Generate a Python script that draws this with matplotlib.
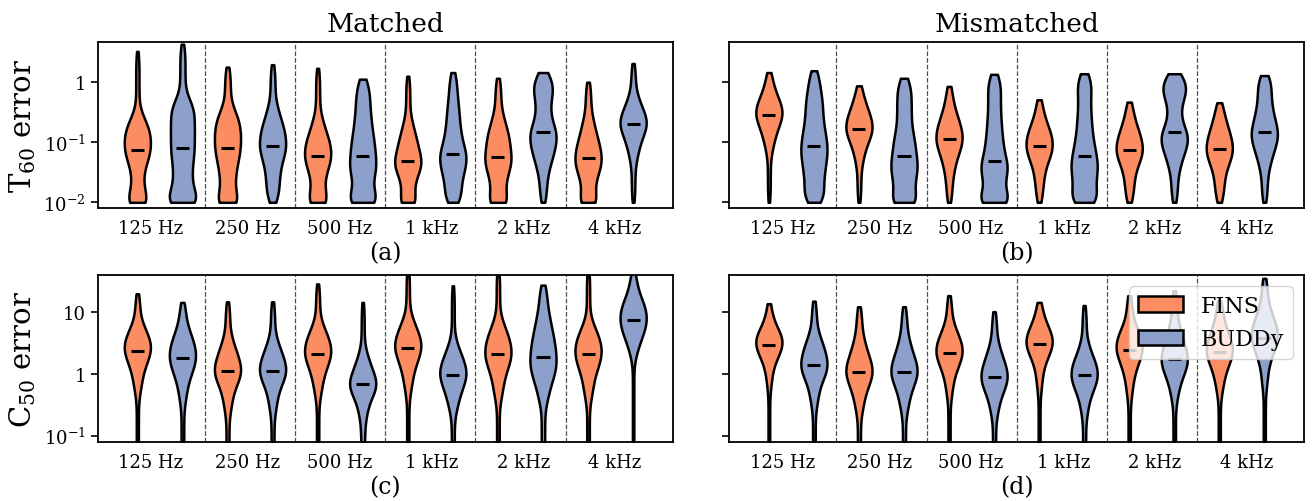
import math

import numpy as np
import matplotlib
matplotlib.use("Agg")
import matplotlib.pyplot as plt
from matplotlib.patches import Patch

plt.rcParams["font.family"] = "serif"
plt.rcParams["font.serif"] = ["DejaVu Serif"]
plt.rcParams["mathtext.fontset"] = "dejavuserif"

bands = ["125 Hz", "250 Hz", "500 Hz", "1 kHz", "2 kHz", "4 kHz"]
methods = ["FINS", "BUDDy"]
colors = {"FINS": "#fc8d62", "BUDDy": "#8da0cb"}

# error values per band, log10 scale, read as deciles (min, 10%, ..., 90%, max)
t60_matched_fins = [
    [-2, -2, -1.75, -1.45, -1.25, -1.14, -1.0, -0.88, -0.75, -0.55, 0.5],
    [-2, -2, -1.7, -1.45, -1.25, -1.1, -0.95, -0.8, -0.65, -0.45, 0.24],
    [-2, -2, -1.75, -1.5, -1.35, -1.24, -1.12, -1.0, -0.85, -0.6, 0.22],
    [-2, -2, -1.7, -1.5, -1.4, -1.31, -1.2, -1.05, -0.9, -0.65, 0.09],
    [-2, -2, -1.7, -1.5, -1.35, -1.25, -1.1, -0.95, -0.8, -0.55, 0.055],
    [-2, -2, -1.7, -1.5, -1.38, -1.27, -1.15, -1.02, -0.85, -0.6, -0.01],
]
t60_matched_buddy = [
    [-2, -2, -1.8, -1.55, -1.3, -1.1, -0.9, -0.7, -0.5, -0.3, 0.62],
    [-2, -1.75, -1.5, -1.3, -1.15, -1.06, -0.92, -0.8, -0.65, -0.4, 0.28],
    [-2, -2, -1.8, -1.55, -1.4, -1.23, -1.05, -0.85, -0.6, -0.3, 0.04],
    [-2, -1.85, -1.6, -1.45, -1.3, -1.2, -1.05, -0.85, -0.6, -0.3, 0.15],
    [-2, -1.5, -1.25, -1.1, -0.95, -0.84, -0.7, -0.45, -0.2, -0.05, 0.15],
    [-2, -1.3, -1.05, -0.9, -0.78, -0.71, -0.63, -0.55, -0.42, -0.25, 0.3],
]
t60_mismatched_fins = [
    [-2, -1.15, -0.9, -0.75, -0.63, -0.56, -0.48, -0.4, -0.3, -0.15, 0.15],
    [-2, -1.35, -1.1, -0.95, -0.85, -0.78, -0.7, -0.6, -0.5, -0.35, -0.07],
    [-2, -1.55, -1.3, -1.15, -1.03, -0.95, -0.85, -0.75, -0.62, -0.45, -0.08],
    [-2, -1.65, -1.4, -1.25, -1.15, -1.07, -0.98, -0.88, -0.78, -0.62, -0.3],
    [-2, -1.7, -1.45, -1.3, -1.2, -1.13, -1.03, -0.93, -0.82, -0.65, -0.34],
    [-2, -1.7, -1.45, -1.3, -1.2, -1.12, -1.02, -0.92, -0.8, -0.63, -0.35],
]
t60_mismatched_buddy = [
    [-2, -1.85, -1.6, -1.4, -1.22, -1.07, -0.9, -0.7, -0.45, -0.2, 0.18],
    [-2, -2, -1.75, -1.55, -1.4, -1.24, -1.05, -0.85, -0.55, -0.25, 0.055],
    [-2, -2, -1.85, -1.6, -1.45, -1.31, -1.1, -0.85, -0.55, -0.2, 0.12],
    [-2, -1.95, -1.75, -1.55, -1.4, -1.24, -1.05, -0.8, -0.5, -0.15, 0.13],
    [-2, -1.45, -1.2, -1.05, -0.92, -0.83, -0.6, -0.3, -0.15, -0.02, 0.13],
    [-2, -1.45, -1.2, -1.05, -0.92, -0.83, -0.7, -0.55, -0.35, -0.1, 0.1],
]
c50_matched_fins = [
    [-1.5, -0.3, 0.0, 0.18, 0.3, 0.38, 0.46, 0.55, 0.65, 0.8, 1.3],
    [-1.5, -0.6, -0.3, -0.12, -0.02, 0.05, 0.15, 0.25, 0.38, 0.58, 1.17],
    [-1.5, -0.35, -0.05, 0.13, 0.25, 0.33, 0.42, 0.52, 0.63, 0.8, 1.46],
    [-1.5, -0.3, 0.02, 0.2, 0.33, 0.42, 0.5, 0.6, 0.72, 0.9, 1.7],
    [-1.5, -0.4, -0.1, 0.1, 0.22, 0.32, 0.42, 0.53, 0.66, 0.85, 1.7],
    [-1.5, -0.4, -0.1, 0.1, 0.22, 0.32, 0.42, 0.52, 0.64, 0.82, 1.7],
]
c50_matched_buddy = [
    [-1.5, -0.45, -0.12, 0.05, 0.17, 0.26, 0.36, 0.46, 0.58, 0.75, 1.16],
    [-1.5, -0.6, -0.3, -0.12, -0.02, 0.05, 0.14, 0.24, 0.36, 0.55, 1.17],
    [-1.3, -0.7, -0.45, -0.3, -0.22, -0.16, -0.08, 0.02, 0.15, 0.35, 1.16],
    [-1.5, -0.6, -0.35, -0.2, -0.08, -0.01, 0.08, 0.18, 0.3, 0.5, 1.43],
    [-1.5, -0.45, -0.15, 0.02, 0.15, 0.28, 0.42, 0.57, 0.75, 1.0, 1.44],
    [-1.5, 0.3, 0.55, 0.68, 0.78, 0.87, 0.96, 1.05, 1.15, 1.3, 1.65],
]
c50_mismatched_fins = [
    [-1.5, -0.2, 0.15, 0.3, 0.4, 0.47, 0.53, 0.6, 0.68, 0.8, 1.14],
    [-1.5, -0.6, -0.32, -0.15, -0.04, 0.04, 0.13, 0.24, 0.38, 0.6, 1.09],
    [-1.5, -0.35, -0.02, 0.15, 0.26, 0.34, 0.42, 0.51, 0.62, 0.78, 1.27],
    [-1.5, -0.25, 0.12, 0.3, 0.4, 0.48, 0.55, 0.62, 0.72, 0.85, 1.16],
    [-1.5, -0.35, 0.0, 0.18, 0.3, 0.39, 0.47, 0.56, 0.66, 0.82, 1.27],
    [-1.5, -0.3, 0.0, 0.17, 0.28, 0.36, 0.44, 0.53, 0.65, 0.82, 1.19],
]
c50_mismatched_buddy = [
    [-1.5, -0.5, -0.2, -0.02, 0.07, 0.14, 0.25, 0.35, 0.47, 0.65, 1.18],
    [-1.5, -0.6, -0.32, -0.15, -0.04, 0.04, 0.13, 0.24, 0.38, 0.6, 1.09],
    [-1.5, -0.65, -0.38, -0.22, -0.12, -0.05, 0.05, 0.15, 0.28, 0.48, 1.01],
    [-1.5, -0.65, -0.35, -0.2, -0.1, -0.02, 0.07, 0.16, 0.28, 0.48, 1.11],
    [-1.5, -0.4, -0.1, 0.05, 0.16, 0.24, 0.34, 0.45, 0.6, 0.82, 1.35],
    [-1.5, -0.2, 0.2, 0.38, 0.5, 0.59, 0.68, 0.78, 0.9, 1.1, 1.55],
]

panels = [
    ("Matched", "(a)", t60_matched_fins, t60_matched_buddy),
    ("Mismatched", "(b)", t60_mismatched_fins, t60_mismatched_buddy),
    (None, "(c)", c50_matched_fins, c50_matched_buddy),
    (None, "(d)", c50_mismatched_fins, c50_mismatched_buddy),
]

t60_ticks = [-2, -1, 0]
t60_labels = [r"$\mathdefault{10^{-2}}$", r"$\mathdefault{10^{-1}}$", "1"]
c50_ticks = [-1, 0, 1]
c50_labels = [r"$\mathdefault{10^{-1}}$", "1", "10"]

band_label_pos = [0.3, 2.45, 4.49, 6.54, 8.57, 10.6]

_erf = np.vectorize(math.erf)


def _phi(z):
    return 0.5 * (1 + _erf(z / math.sqrt(2)))


def decile_stats(q, sigma=0.16, n=300):
    # density implied by the deciles (equal mass between neighbours), smoothed
    q = np.asarray(q, dtype=float)
    y = np.linspace(q[0], q[-1], n)
    dens = np.zeros_like(y)
    mass = 1.0 / (len(q) - 1)
    for a, b in zip(q[:-1], q[1:]):
        if b - a < 1e-9:
            dens += mass * np.exp(-0.5 * ((y - a) / sigma) ** 2) / (sigma * math.sqrt(2 * math.pi))
        else:
            dens += mass / (b - a) * (_phi((y - a) / sigma) - _phi((y - b) / sigma))
    return dict(coords=y, vals=dens, mean=q.mean(), median=q[len(q) // 2],
                min=q[0], max=q[-1])


fig = plt.figure(figsize=(13.13, 5.02), dpi=100)
rects = [
    [0.0744, 0.583, 0.438, 0.331],
    [0.5554, 0.583, 0.4377, 0.331],
    [0.0744, 0.117, 0.438, 0.3333],
    [0.5554, 0.117, 0.4377, 0.3333],
]

for k, (title, tag, fins, buddy) in enumerate(panels):
    ax = fig.add_axes(rects[k])
    for j, (name, series) in enumerate(zip(methods, [fins, buddy])):
        pos = [2 * i + j for i in range(len(bands))]
        stats = [decile_stats(q) for q in series]
        parts = ax.violin(stats, positions=pos, widths=0.58,
                          showextrema=False, showmedians=True)
        for body in parts["bodies"]:
            body.set_facecolor(colors[name])
            body.set_edgecolor("black")
            body.set_linewidth(1.8)
            body.set_alpha(1)
        parts["cmedians"].set_color("black")
        parts["cmedians"].set_linewidth(2.2)

    for i in range(len(bands) - 1):
        ax.axvline(2 * i + 1.5, color="0.3", ls="--", lw=0.9)

    ax.set_xlim(-0.88, 11.88)
    ax.set_xticks(band_label_pos)
    ax.set_xticklabels(bands)
    ax.tick_params(axis="x", length=0, pad=8, labelsize=13)
    ax.tick_params(axis="y", length=5, width=1.2, labelsize=13)
    for sp in ax.spines.values():
        sp.set_linewidth(1.3)

    if k < 2:
        ax.set_ylim(-2.1, 0.653)
        ax.set_yticks(t60_ticks)
        ax.set_yticklabels(t60_labels if k == 0 else [])
        ax.set_title(title, fontsize=19, pad=8)
        if k == 0:
            ax.set_ylabel(r"T$_{60}$ error", fontsize=21)
    else:
        ax.set_ylim(-1.107, 1.605)
        ax.set_yticks(c50_ticks)
        ax.set_yticklabels(c50_labels if k == 2 else [])
        if k == 2:
            ax.set_ylabel(r"C$_{50}$ error", fontsize=21)

    ax.set_xlabel(tag, fontsize=17, labelpad=3)

    if k == 3:
        handles = [Patch(facecolor=colors[m], edgecolor="black", lw=1.8, label=m)
                   for m in methods]
        ax.legend(handles=handles, loc="upper right", fontsize=16)

fig.savefig("out.png", dpi=100)
